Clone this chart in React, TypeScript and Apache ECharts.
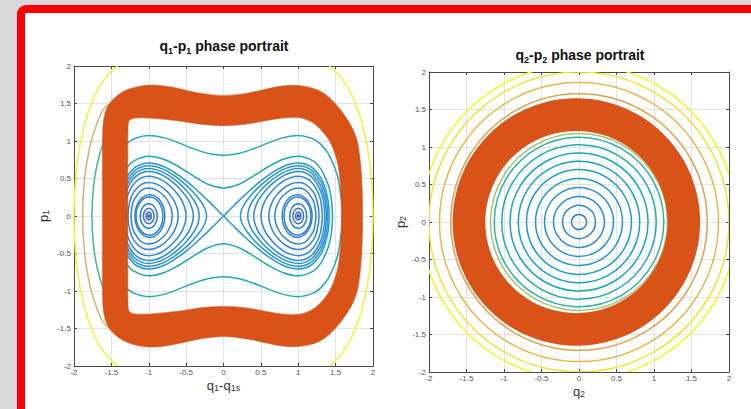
import React, { useEffect, useRef } from "react";
import * as echarts from "echarts";

type Pt = [number, number];

const FONT = "'Liberation Sans', Arial, Helvetica, sans-serif";

// ---------- axes ----------
const axisMin = -2;
const axisMax = 2;
const axisStep = 0.5;

// ---------- left panel (q1 - p1) ----------
// right lobe of the separatrix, upper half
const separatrixUpper: Pt[] = [
  [0, 0], [0.1, 0.1], [0.2, 0.198], [0.3, 0.293], [0.4, 0.384], [0.5, 0.468], [0.6, 0.543],
  [0.7, 0.608], [0.8, 0.66], [0.9, 0.694], [1.0, 0.707], [1.1, 0.691], [1.2, 0.635],
  [1.3, 0.512], [1.35, 0.402], [1.39, 0.256], [1.405, 0.159], [1.414, 0],
];

// closed orbits around the right well (upper halves); the left well is its mirror image
const wellLoop1: Pt[] = [[0.226, 0], [0.232, 0.049], [0.25, 0.103], [0.3, 0.19], [0.4, 0.312], [0.5, 0.411], [0.6, 0.495], [0.7, 0.566], [0.8, 0.621], [0.9, 0.657], [1.0, 0.671], [1.1, 0.654], [1.2, 0.594], [1.3, 0.46], [1.35, 0.334], [1.38, 0.203], [1.396, 0]];
const wellLoop2: Pt[] = [[0.325, 0], [0.33, 0.054], [0.35, 0.122], [0.4, 0.217], [0.5, 0.345], [0.6, 0.442], [0.7, 0.52], [0.8, 0.579], [0.9, 0.618], [1.0, 0.632], [1.1, 0.615], [1.2, 0.551], [1.3, 0.402], [1.35, 0.248], [1.365, 0.166], [1.376, 0]];
const wellLoop3: Pt[] = [[0.404, 0], [0.41, 0.063], [0.45, 0.179], [0.5, 0.262], [0.6, 0.381], [0.7, 0.469], [0.8, 0.534], [0.9, 0.576], [1.0, 0.592], [1.1, 0.573], [1.2, 0.503], [1.3, 0.335], [1.34, 0.183], [1.355, 0]];
const wellLoop4: Pt[] = [[0.502, 0], [0.51, 0.079], [0.55, 0.192], [0.6, 0.274], [0.7, 0.387], [0.8, 0.464], [0.9, 0.512], [1.0, 0.529], [1.1, 0.508], [1.2, 0.428], [1.27, 0.303], [1.3, 0.205], [1.322, 0]];
const wellLoop5: Pt[] = [[0.606, 0], [0.615, 0.082], [0.65, 0.182], [0.7, 0.265], [0.8, 0.368], [0.9, 0.427], [1.0, 0.447], [1.1, 0.422], [1.2, 0.321], [1.25, 0.204], [1.278, 0]];
const wellLoop6: Pt[] = [[0.686, 0], [0.7, 0.1], [0.75, 0.21], [0.8, 0.274], [0.9, 0.349], [1.0, 0.374], [1.1, 0.343], [1.2, 0.208], [1.22, 0.144], [1.237, 0]];
const wellLoops: Pt[][] = [wellLoop1, wellLoop2, wellLoop3, wellLoop4, wellLoop5, wellLoop6];
const wellLoopColors = ["#2596D8", "#2790D8", "#2A8BD8", "#2C87D8", "#2D84D8", "#2E82D8"];

// small rings around the right well centre: [q centre, p centre, q half-width, p half-height]
const wellRings: [number, number, number, number][] = [
  [0.985, 0, 0.2, 0.285],
  [0.99, 0, 0.18, 0.255],
  [1.0, 0, 0.115, 0.163],
  [1.0, 0, 0.072, 0.102],
  [1.0, 0, 0.035, 0.05],
  [1.0, 0, 0.012, 0.017],
];
const wellRingColors = ["#2D80D8", "#2D80D8", "#2F7CD8", "#3276D6", "#3A6AD2", "#4A50C4"];

// orbits enclosing both wells (upper-right quarters)
const outerLoop1: Pt[] = [[0, 0.37], [0.2, 0.42], [0.4, 0.533], [0.6, 0.657], [0.8, 0.756], [1.0, 0.798], [1.2, 0.735], [1.3, 0.632], [1.4, 0.42], [1.44, 0.246], [1.459, 0]];
const outerLoop2: Pt[] = [[0, 0.81], [0.2, 0.834], [0.4, 0.896], [0.6, 0.975], [0.8, 1.045], [1.0, 1.075], [1.2, 1.029], [1.3, 0.958], [1.4, 0.834], [1.5, 0.612], [1.55, 0.415], [1.589, 0]];
const outerLoops: Pt[][] = [outerLoop1, outerLoop2];
const outerLoopColors = ["#1FA6BF", "#21ABB6"];

// arcs visible on the left, outside the band (upper halves)
const greenArc: Pt[] = [[-1.76, 0], [-1.738, 0.4], [-1.688, 0.7], [-1.596, 1.0], [-1.495, 1.2]];
const tanArc: Pt[] = [[-1.885, 0], [-1.858, 0.5], [-1.793, 0.9], [-1.705, 1.2], [-1.62, 1.4], [-1.56, 1.47], [-1.5, 1.5]];
const leftArcs: Pt[][] = [greenArc, tanArc];
const leftArcColors = ["#45B797", "#CDB66A"];

// outermost level (upper-right quarter)
const yellowQuarter: Pt[] = [[1.414, 2], [1.45, 1.973], [1.5, 1.928], [1.6, 1.812], [1.7, 1.647], [1.8, 1.411], [1.85, 1.251], [1.9, 1.046], [1.95, 0.756], [1.98, 0.486], [2.0, 0]];
const yellowColor = "#F3F22C";

// thick band (upper halves of its outer and inner edges, left to right)
const bandOuterUpper: Pt[] = [[-1.62, 0], [-1.62, 0.6], [-1.62, 1.1], [-1.605, 1.3], [-1.56, 1.46], [-1.47, 1.57], [-1.35, 1.66], [-1.2, 1.72], [-1.0, 1.75], [-0.8, 1.74], [-0.6, 1.7], [-0.3, 1.63], [0, 1.6], [0.3, 1.63], [0.6, 1.7], [0.8, 1.74], [1.0, 1.745], [1.2, 1.71], [1.35, 1.64], [1.5, 1.5], [1.64, 1.32], [1.74, 1.15], [1.8, 0.98], [1.84, 0.66], [1.86, 0.3], [1.86, 0]];
const bandInnerUpper: Pt[] = [[-1.28, 0], [-1.28, 0.6], [-1.28, 1.18], [-1.27, 1.28], [-1.2, 1.31], [-1.0, 1.31], [-0.6, 1.27], [-0.3, 1.22], [0, 1.2], [0.3, 1.22], [0.6, 1.28], [0.8, 1.31], [1.02, 1.32], [1.18, 1.26], [1.29, 1.17], [1.4, 1.04], [1.46, 0.92], [1.52, 0.75], [1.55, 0.57], [1.575, 0.3], [1.58, 0]];
const bandColor = "#D95319";

// ---------- right panel (q2 - p2) ----------
const innerRadii = [0.1, 0.22, 0.34, 0.46, 0.58, 0.7, 0.81, 0.92, 1.03, 1.13, 1.18];
const innerColors = ["#2F7FD6", "#2D85D5", "#2A8CD3", "#2592D0", "#1F98CC", "#199EC8", "#15A3C3", "#17A8BC", "#1EACB4", "#2DB2A8", "#A8C26E"];
const outerRadii = [1.71, 1.86, 2.0, 2.1];
const outerColors = ["#E0A24E", "#EFB444", "#F2E22E", "#F5F522"];
// ring: [q centre, p centre, inner radius, outer radius]
const ring: [number, number, number, number] = [-0.035, 0, 1.215, 1.65];

// ---------- helpers ----------
function mirrorHalf(upper: Pt[]): Pt[] {
  const lower = upper.slice(0, -1).reverse().map(([q, p]) => [q, -p] as Pt);
  return [...upper, ...lower];
}
function flipQ(pts: Pt[]): Pt[] {
  return pts.map(([q, p]) => [-q, p] as Pt);
}
function fromQuarter(quarter: Pt[]): Pt[] {
  const lr = quarter.slice(0, -1).reverse().map(([q, p]) => [q, -p] as Pt);
  const ll = quarter.slice(1).map(([q, p]) => [-q, -p] as Pt);
  const ul = quarter.slice(0, -1).reverse().map(([q, p]) => [-q, p] as Pt);
  return [...quarter, ...lr, ...ll, ...ul];
}
function fromUpperArc(arc: Pt[]): Pt[] {
  const lower = arc.slice(1).reverse().map(([q, p]) => [q, -p] as Pt);
  return [...lower, ...arc];
}

function line(data: Pt[], color: string, width: number, xi: number, yi: number, z = 2) {
  return {
    type: "line",
    xAxisIndex: xi,
    yAxisIndex: yi,
    data,
    symbol: "none",
    showSymbol: false,
    smooth: 0.35,
    clip: true,
    silent: true,
    z,
    lineStyle: { color, width },
  };
}

function axes(gridIndex: number, xName: string, yName: string, xGap: number, yGap: number) {
  const common = {
    type: "value",
    min: axisMin,
    max: axisMax,
    interval: axisStep,
    gridIndex,
  };
  const lineColor = "#4a4a4a";
  const rich = {
    a: { fontSize: 13, fontFamily: FONT, color: "#333", lineHeight: 13 },
    s: { fontSize: 9, fontFamily: FONT, color: "#333", lineHeight: 9, verticalAlign: "bottom" },
  };
  const x = [
    {
      ...common,
      position: "bottom",
      name: xName,
      nameLocation: "middle",
      nameGap: xGap,
      nameMoveOverlap: false,
      nameTextStyle: { rich },
      axisLine: { show: true, onZero: false, lineStyle: { color: lineColor, width: 1 } },
      axisTick: { show: true, inside: true, length: 3, lineStyle: { color: lineColor } },
      axisLabel: { fontSize: 8, color: "#555", margin: 2, fontFamily: FONT },
      splitLine: { show: true, lineStyle: { color: "#e3e3e3", width: 1 } },
    },
    {
      ...common,
      position: "top",
      axisLine: { show: true, onZero: false, lineStyle: { color: lineColor, width: 1 } },
      axisTick: { show: true, inside: true, length: 3, lineStyle: { color: lineColor } },
      axisLabel: { show: false },
      splitLine: { show: false },
    },
  ];
  const y = [
    {
      ...common,
      position: "left",
      name: yName,
      nameLocation: "middle",
      nameGap: yGap,
      nameMoveOverlap: false,
      nameRotate: 90,
      nameTextStyle: { rich },
      axisLine: { show: true, onZero: false, lineStyle: { color: lineColor, width: 1 } },
      axisTick: { show: true, inside: true, length: 3, lineStyle: { color: lineColor } },
      axisLabel: { fontSize: 8, color: "#555", margin: 3, fontFamily: FONT },
      splitLine: { show: true, lineStyle: { color: "#e3e3e3", width: 1 } },
    },
    {
      ...common,
      position: "right",
      axisLine: { show: true, onZero: false, lineStyle: { color: lineColor, width: 1 } },
      axisTick: { show: true, inside: true, length: 3, lineStyle: { color: lineColor } },
      axisLabel: { show: false },
      splitLine: { show: false },
    },
  ];
  return { x, y };
}

function smoothClosedPath(pts: number[][]): string {
  const n = pts.length;
  const mid = (a: number[], b: number[]) => [(a[0] + b[0]) / 2, (a[1] + b[1]) / 2];
  const f = (p: number[]) => p[0].toFixed(2) + " " + p[1].toFixed(2);
  let d = "M" + f(mid(pts[n - 1], pts[0]));
  for (let i = 0; i < n; i++) {
    d += " Q" + f(pts[i]) + " " + f(mid(pts[i], pts[(i + 1) % n]));
  }
  return d + " Z ";
}

function buildOption() {
  const left = axes(0, "{a|q}{s|1}{a|-q}{s|1s}", "{a|p}{s|1}", 13, 24);
  const right = axes(1, "{a|q}{s|2}", "{a|p}{s|2}", 13, 22);

  const series: any[] = [];

  // left panel: x axis 0, y axis 0
  wellLoops.forEach((h, i) => {
    const loop = mirrorHalf(h);
    series.push(line(loop, wellLoopColors[i], 1.5, 0, 0));
    series.push(line(flipQ(loop), wellLoopColors[i], 1.5, 0, 0));
  });
  const sepR = mirrorHalf(separatrixUpper);
  series.push(line(sepR, "#2399D8", 1.5, 0, 0));
  series.push(line(flipQ(sepR), "#2399D8", 1.5, 0, 0));
  outerLoops.forEach((qd, i) => series.push(line(fromQuarter(qd), outerLoopColors[i], 1.5, 0, 0)));
  leftArcs.forEach((a, i) => series.push(line(fromUpperArc(a), leftArcColors[i], 1.5, 0, 0)));
  const yR = [...yellowQuarter, ...yellowQuarter.slice(0, -1).reverse().map(([q, p]) => [q, -p] as Pt)];
  series.push(line(yR, yellowColor, 1.5, 0, 0));
  series.push(line(flipQ(yR), yellowColor, 1.5, 0, 0));

  const ringSeries = (rings: [number, number, number, number][], colors: string[]) => ({
    type: "custom",
    coordinateSystem: "cartesian2d",
    xAxisIndex: 0,
    yAxisIndex: 0,
    silent: true,
    clip: true,
    z: 2,
    data: rings,
    renderItem: (params: any, api: any) => {
      const c = api.coord([api.value(0), api.value(1)]);
      const s = api.size([api.value(2), api.value(3)]);
      return {
        type: "ellipse",
        shape: { cx: c[0], cy: c[1], rx: s[0], ry: s[1] },
        style: { fill: "none", stroke: colors[params.dataIndex], lineWidth: 1.5 },
      };
    },
  });
  series.push(ringSeries(wellRings, wellRingColors));
  series.push(ringSeries(wellRings.map(([q, p, a, b]) => [-q, p, a, b] as [number, number, number, number]), wellRingColors));

  // band with hole
  const bandOuter = mirrorHalf(bandOuterUpper).slice(0, -1);
  const bandInner = mirrorHalf(bandInnerUpper).slice(0, -1);
  series.push({
    type: "custom",
    coordinateSystem: "cartesian2d",
    xAxisIndex: 0,
    yAxisIndex: 0,
    silent: true,
    z: 3,
    data: [[0, 0]],
    renderItem: (_params: any, api: any) => {
      const o = bandOuter.map((p) => api.coord(p));
      const inn = bandInner.map((p) => api.coord(p)).reverse();
      return {
        type: "path",
        shape: { pathData: smoothClosedPath(o) + smoothClosedPath(inn) },
        style: { fill: bandColor, stroke: bandColor, lineWidth: 0.5 },
      };
    },
  });

  // right panel: x axis 2, y axis 2
  const circleSeries = (radii: number[], colors: string[]) => ({
    type: "custom",
    coordinateSystem: "cartesian2d",
    xAxisIndex: 2,
    yAxisIndex: 2,
    silent: true,
    clip: true,
    z: 2,
    data: radii.map((r) => [0, 0, r]),
    renderItem: (params: any, api: any) => {
      const c = api.coord([api.value(0), api.value(1)]);
      const s = api.size([api.value(2), api.value(2)]);
      return {
        type: "circle",
        shape: { cx: c[0], cy: c[1], r: s[0] },
        style: { fill: "none", stroke: colors[params.dataIndex], lineWidth: 1.5 },
      };
    },
  });
  series.push(circleSeries(innerRadii, innerColors));
  series.push(circleSeries(outerRadii, outerColors));
  series.push({
    type: "custom",
    coordinateSystem: "cartesian2d",
    xAxisIndex: 2,
    yAxisIndex: 2,
    silent: true,
    z: 3,
    data: [ring],
    renderItem: (_params: any, api: any) => {
      const c = api.coord([api.value(0), api.value(1)]);
      const r0 = api.size([api.value(2), 0])[0];
      const r = api.size([api.value(3), 0])[0];
      return {
        type: "ring",
        shape: { cx: c[0], cy: c[1], r0, r },
        style: { fill: bandColor },
      };
    },
  });

  const titleRich = {
    a: { fontSize: 14, fontWeight: "bold", fontFamily: FONT, fill: "#111", lineHeight: 18 },
    s: { fontSize: 9, fontWeight: "bold", fontFamily: FONT, fill: "#111", lineHeight: 9, verticalAlign: "bottom" },
  };

  return {
    animation: false,
    backgroundColor: "transparent",
    grid: [
      { left: 74, top: 66, width: 299, height: 300 },
      { left: 429, top: 72, width: 300, height: 300 },
    ],
    xAxis: [...left.x, ...right.x],
    yAxis: [...left.y, ...right.y],
    series,
    graphic: [
      {
        type: "text",
        x: 224,
        y: 37,
        z: 10,
        style: { text: "{a|q}{s|1}{a|-p}{s|1}{a| phase portrait}", align: "center", verticalAlign: "top", rich: titleRich },
      },
      {
        type: "text",
        x: 580,
        y: 46,
        z: 10,
        style: { text: "{a|q}{s|2}{a|-p}{s|2}{a| phase portrait}", align: "center", verticalAlign: "top", rich: titleRich },
      },
    ],
  };
}

export default function App() {
  const ref = useRef<HTMLDivElement>(null);
  useEffect(() => {
    if (!ref.current) return;
    const chart = echarts.init(ref.current, undefined, { renderer: "svg" });
    chart.setOption(buildOption() as any);
    return () => chart.dispose();
  }, []);
  return (
    <div style={{ position: "absolute", left: 0, top: 0, width: 751, height: 409, overflow: "hidden", background: "#d9d9d9" }}>
      <div
        style={{
          position: "absolute",
          left: 17,
          top: 5,
          width: 760,
          height: 420,
          background: "#ffffff",
          borderLeft: "8px solid #ff0000",
          borderTop: "8px solid #ff0000",
          borderTopLeftRadius: 9,
          boxSizing: "border-box",
        }}
      />
      <div ref={ref} style={{ position: "absolute", left: 0, top: 0, width: 751, height: 409 }} />
    </div>
  );
}
